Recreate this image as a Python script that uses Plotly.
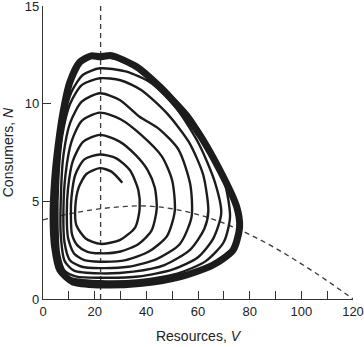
import plotly.graph_objects as go

# Prey (resource) isocline, dashed curve
iso_V = [0, 10, 20, 30, 40, 50, 60, 70, 80, 90, 100, 110, 120]
iso_N = [4.05, 4.35, 4.58, 4.72, 4.76, 4.62, 4.32, 3.88, 3.30, 2.60, 1.80, 0.93, 0.0]

# Consumer isocline (vertical dashed line)
cons_iso_V = 22.3
cons_iso_N = [0, 15]

# Spiral trajectory (from the inner start outwards)
traj_V = [30.7, 26.5, 22.0, 16.8, 13.8, 12.5, 12.9, 16.5, 22.1, 29.9, 35.7, 37.4, 36.9, 33.6, 28.4,
          22.0, 16.0, 12.5, 11.0, 10.8, 11.2, 13.4, 17.0, 22.0, 30.0, 37.0, 42.0, 44.0, 43.3, 40.5, 36.0, 29.5,
          22.0, 15.5, 11.5, 9.7, 9.2, 9.7, 12.0, 16.0, 22.0, 32.0, 41.0, 48.0, 51.0, 50.0, 46.0, 38.0, 30.0,
          22.0, 15.0, 11.0, 8.7, 7.9, 8.3, 10.4, 15.0, 22.0, 33.0, 44.0, 53.0, 57.5, 57.0, 52.5, 45.0, 37.4, 29.7,
          22.0, 15.0, 10.5, 7.9, 6.9, 6.9, 8.4, 12.0, 22.0, 35.0, 47.0, 57.0, 62.5, 64.0, 62.0, 56.5, 48.0, 38.0, 30.0,
          22.0, 15.0, 10.5, 7.4, 5.9, 5.6, 6.2, 8.4, 13.0, 22.0, 37.0, 50.0, 60.0, 66.0, 69.0, 66.5, 60.5, 52.0, 42.0, 32.0,
          22.0, 15.5, 11.0, 7.9, 5.9, 5.0, 5.1, 6.4, 10.0, 22.0, 37.5, 52.0, 63.0, 70.0, 72.4, 70.5, 65.5, 57.0, 47.0, 37.0, 28.0,
          22.0]
traj_N = [5.95, 6.52, 6.70, 6.40, 5.70, 4.70, 3.78, 3.10, 2.82, 3.03, 3.67, 4.60, 5.58, 6.60, 7.20,
          7.40, 7.15, 6.36, 5.18, 4.40, 3.32, 2.73, 2.43, 2.34, 2.43, 2.82, 3.50, 4.60, 5.70, 6.60, 7.35, 8.07,
          8.40, 8.04, 7.05, 5.68, 4.40, 3.12, 2.33, 1.99, 1.91, 1.99, 2.43, 3.22, 4.50, 6.07, 7.30, 8.40, 9.20,
          9.54, 9.12, 8.04, 6.36, 4.50, 2.92, 1.99, 1.65, 1.58, 1.65, 2.04, 2.82, 4.20, 5.87, 7.64, 8.70, 9.33, 10.19,
          10.53, 10.10, 9.02, 7.35, 5.18, 3.22, 1.94, 1.45, 1.31, 1.40, 1.74, 2.53, 3.61, 4.50, 6.36, 8.03, 9.50, 10.70, 11.20,
          11.30, 10.95, 10.00, 8.33, 6.07, 3.90, 2.33, 1.45, 1.15, 1.09, 1.15, 1.50, 2.14, 3.12, 4.40, 6.00, 7.90, 9.70, 11.05, 11.65,
          11.81, 11.48, 10.60, 9.12, 7.05, 4.89, 2.92, 1.74, 1.10, 0.91, 0.96, 1.30, 1.94, 2.92, 4.20, 5.87, 7.50, 9.35, 10.75, 11.75, 12.30,
          12.40]

# Limit cycle (thick outer loop)
cycle_V = [22.0, 18.7, 14.2, 10.3, 7.7, 5.8, 4.5, 3.9, 4.5, 6.5, 11.6, 21.95, 37.4, 52.9, 65.8, 73.6,
           76.1, 75.0, 68.4, 59.4, 47.8, 36.2, 26.5, 22.0]
cycle_N = [12.40, 12.45, 12.12, 11.06, 9.52, 7.78, 6.09, 4.20, 2.66, 1.48, 0.87, 0.72, 0.79, 1.13, 1.74, 2.51,
           3.69, 4.71, 6.61, 8.65, 10.53, 11.89, 12.46, 12.40]

x_ticks = list(range(0, 121, 10))
x_ticktext = [str(v) if v % 20 == 0 else "" for v in x_ticks]
y_ticks = [0, 5, 10, 15]

ink = "#1c1c1c"
dash_col = "#3a3a3a"

fig = go.Figure()
fig.add_trace(go.Scatter(x=iso_V, y=iso_N, mode="lines",
                         line=dict(color=dash_col, width=1.3, dash="5px,4px", shape="spline", smoothing=1.0),
                         hoverinfo="skip", showlegend=False))
fig.add_trace(go.Scatter(x=[cons_iso_V, cons_iso_V], y=cons_iso_N, mode="lines",
                         line=dict(color=dash_col, width=1.3, dash="5px,4px"),
                         hoverinfo="skip", showlegend=False))
fig.add_trace(go.Scatter(x=traj_V, y=traj_N, mode="lines",
                         line=dict(color=ink, width=2.4, shape="spline", smoothing=0.7),
                         showlegend=False))
fig.add_trace(go.Scatter(x=cycle_V, y=cycle_N, mode="lines",
                         line=dict(color=ink, width=7, shape="spline", smoothing=0.7),
                         showlegend=False))

font_family = "Liberation Sans, Arial, Helvetica, sans-serif"
fig.update_layout(
    width=364, height=347,
    margin=dict(l=43, r=11, t=6, b=48, autoexpand=False),
    paper_bgcolor="white", plot_bgcolor="white",
    font=dict(family=font_family, size=13, color="#222"),
    xaxis=dict(range=[0, 120], tickvals=x_ticks, ticktext=x_ticktext,
               ticks="inside", ticklen=8, tickwidth=1.2, tickcolor="#333",
               showline=True, linecolor="#333", linewidth=1.3, automargin=False,
               showgrid=False, zeroline=False, ticklabeloverflow="allow",
               title=dict(text="Resources, <i>V</i>", font=dict(size=14), standoff=13)),
    yaxis=dict(range=[0, 15.0001], tickvals=y_ticks,
               ticks="inside", ticklen=8, tickwidth=1.2, tickcolor="#333",
               showline=True, linecolor="#333", linewidth=1.3, automargin=False,
               showgrid=False, zeroline=False, ticklabeloverflow="allow",
               title=dict(text="Consumers, <i>N</i>", font=dict(size=14), standoff=8)),
)

fig.write_html("out.html")
